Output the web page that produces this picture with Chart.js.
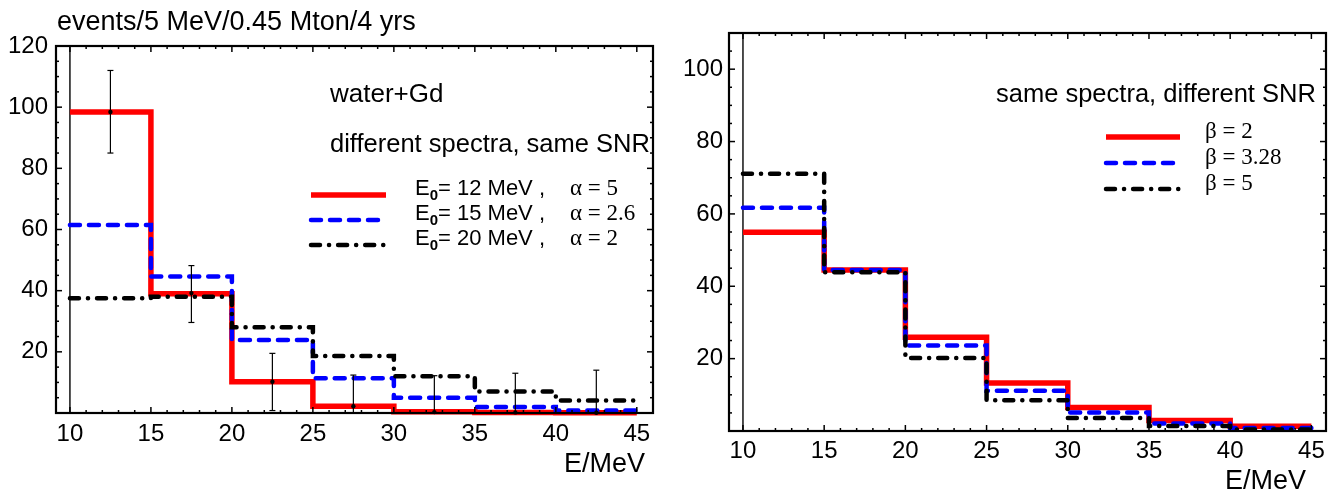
<!DOCTYPE html>
<html>
<head>
<meta charset="utf-8">
<script src="https://cdn.jsdelivr.net/npm/chart.js@4.4.0/dist/chart.umd.min.js"></script>
<style>
    html, body { margin: 0; padding: 0; background: #fff; }
    #wrap { position: relative; width: 1340px; height: 496px; }
    .panel { position: absolute; top: 0; width: 670px; height: 496px; }
    #left { left: 0; }
    #right { left: 670px; }
</style>
</head>
<body>
<div id="wrap">
    <div class="panel" id="left"><canvas id="c1" width="670" height="496"></canvas></div>
    <div class="panel" id="right"><canvas id="c2" width="670" height="496"></canvas></div>
</div>
<script>
(function() {
    'use strict';

    // bin edges (MeV), 5 MeV bins
    const binEdges = [10, 15, 20, 25, 30, 35, 40, 45];

    // left panel: water+Gd, different spectra, same SNR
    const leftRed   = [98.4, 39.0, 10.2, 2.2, 0.4, 0.2, 0.1];
    const leftBlue  = [61.5, 44.6, 23.9, 11.4, 5.0, 2.0, 0.8];
    const leftBlack = [37.5, 38.0, 28.0, 18.6, 12.0, 7.0, 4.1];

    // error bars on the left panel
    const errCenters = [12.5, 17.5, 22.5, 27.5, 32.5, 37.5, 42.5];
    const errMid  = [98.4, 39.2, 10.2, 2.2, 0.3, 0.2, 0.1];
    const errLow  = [85.0, 29.6, 0.8, 0, 0, 0, 0];
    const errHigh = [112.0, 48.2, 19.5, 12.4, 12.2, 13.0, 14.0];

    // right panel: same spectra, different SNR
    const rightRed   = [54.9, 44.5, 25.9, 13.3, 6.5, 2.9, 1.3];
    const rightBlue  = [61.7, 44.5, 23.6, 11.1, 5.1, 2.1, 0.8];
    const rightBlack = [71.1, 43.9, 20.2, 8.5, 3.6, 1.4, 0.4];

    // legend labels
    const leftE0 = ['12', '15', '20'];
    const leftAlpha = ['5', '2.6', '2'];
    const rightBeta = ['2', '3.28', '5'];

    const SANS = '"Liberation Sans", Arial, sans-serif';
    const SERIF = '"Liberation Serif", "Times New Roman", serif';

    const styles = [
        { borderColor: '#ff0000', borderWidth: 5.5, borderDash: [], borderCapStyle: 'butt', order: 3 },
        { borderColor: '#0000ff', borderWidth: 4.5, borderDash: [10, 9], borderCapStyle: 'round', order: 2 },
        { borderColor: '#000000', borderWidth: 4.5, borderDash: [9, 9, 0.1, 9], borderCapStyle: 'round', order: 1 }
    ];

    function steps(vals) {
        const pts = vals.map((v, i) => ({ x: binEdges[i], y: v }));
        pts.push({ x: binEdges[binEdges.length - 1], y: vals[vals.length - 1] });
        return pts;
    }

    function makeDatasets(series) {
        return series.map((vals, i) => Object.assign({
            data: steps(vals),
            stepped: 'before',
            pointRadius: 0,
            fill: false,
            clip: 8,
            borderJoinStyle: 'miter'
        }, styles[i]));
    }

    function strokeLine(ctx, x1, y1, x2, y2, w) {
        ctx.lineWidth = w;
        ctx.beginPath();
        ctx.moveTo(x1, y1);
        ctx.lineTo(x2, y2);
        ctx.stroke();
    }

    // frame with inward ticks on all four sides, plus the axis line at E = 10
    function framePlugin(yMinorStep, yMajorStep) {
        return {
            id: 'frame',
            beforeDatasetsDraw(chart) {
                const ctx = chart.ctx, a = chart.chartArea, xs = chart.scales.x;
                ctx.save();
                ctx.strokeStyle = '#000';
                const x10 = xs.getPixelForValue(10);
                strokeLine(ctx, x10, a.top, x10, a.bottom, 1.4);
                ctx.restore();
            },
            afterDatasetsDraw(chart) {
                const ctx = chart.ctx, a = chart.chartArea;
                const xs = chart.scales.x, ys = chart.scales.y;
                ctx.save();
                ctx.strokeStyle = '#000';
                for (let v = Math.ceil(xs.min); v <= xs.max; v++) {
                    const px = xs.getPixelForValue(v);
                    const len = v % 5 === 0 ? 6 : 3;
                    strokeLine(ctx, px, a.bottom, px, a.bottom - len, 1.5);
                    strokeLine(ctx, px, a.top, px, a.top + len, 1.5);
                }
                for (let v = 0; v <= ys.max; v += yMinorStep) {
                    const py = ys.getPixelForValue(v);
                    const len = v % yMajorStep === 0 ? 6 : 3;
                    strokeLine(ctx, a.left, py, a.left + len, py, 1.5);
                    strokeLine(ctx, a.right, py, a.right - len, py, 1.5);
                }
                ctx.lineWidth = 2.2;
                ctx.strokeRect(a.left, a.top, a.right - a.left, a.bottom - a.top);
                ctx.restore();
            }
        };
    }

    const errorBarPlugin = {
        id: 'errorBars',
        afterDatasetsDraw(chart) {
            const ctx = chart.ctx, xs = chart.scales.x, ys = chart.scales.y;
            ctx.save();
            ctx.strokeStyle = '#000';
            ctx.fillStyle = '#000';
            errCenters.forEach((c, i) => {
                const px = xs.getPixelForValue(c);
                const lo = ys.getPixelForValue(errLow[i]);
                const hi = ys.getPixelForValue(errHigh[i]);
                strokeLine(ctx, px, lo, px, hi, 1.2);
                strokeLine(ctx, px - 3, hi, px + 3, hi, 1.2);
                strokeLine(ctx, px - 3, lo, px + 3, lo, 1.2);
                ctx.beginPath();
                ctx.arc(px, ys.getPixelForValue(errMid[i]), 2.2, 0, Math.PI * 2);
                ctx.fill();
            });
            ctx.restore();
        }
    };

    function legendSample(ctx, ds, x1, x2, y) {
        ctx.save();
        ctx.strokeStyle = ds.borderColor;
        ctx.lineWidth = ds.borderWidth;
        ctx.setLineDash(ds.borderDash);
        ctx.lineCap = ds.borderCapStyle;
        ctx.beginPath();
        ctx.moveTo(x1, y);
        ctx.lineTo(x2, y);
        ctx.stroke();
        ctx.restore();
    }

    const leftTextPlugin = {
        id: 'leftText',
        afterDraw(chart) {
            const ctx = chart.ctx;
            ctx.save();
            ctx.fillStyle = '#000';
            ctx.textBaseline = 'middle';
            ctx.textAlign = 'left';
            ctx.font = '27px ' + SANS;
            ctx.fillText('events/5 MeV/0.45 Mton/4 yrs', 57, 23);
            ctx.font = '26px ' + SANS;
            ctx.fillText('water+Gd', 330, 95);
            ctx.font = '25.5px ' + SANS;
            ctx.fillText('different spectra, same SNR', 330, 145);
            ctx.textAlign = 'right';
            ctx.font = '27px ' + SANS;
            ctx.fillText('E/MeV', 645, 465);
            ctx.textAlign = 'left';

            const lineY = [195, 220, 245];
            chart.data.datasets.forEach((ds, i) => {
                legendSample(ctx, ds, 311, 386, lineY[i]);
                const ty = lineY[i] - 6;
                let x = 415;
                ctx.font = '22px ' + SANS;
                ctx.fillText('E', x, ty);
                x += ctx.measureText('E').width;
                ctx.font = 'bold 15px ' + SANS;
                ctx.fillText('0', x, ty + 7);
                x += ctx.measureText('0').width;
                ctx.font = '22px ' + SANS;
                ctx.fillText('= ' + leftE0[i] + ' MeV ,', x, ty);
                ctx.font = '23px ' + SERIF;
                ctx.fillText('\u03b1 = ' + leftAlpha[i], 570, ty);
            });
            ctx.restore();
        }
    };

    const rightTextPlugin = {
        id: 'rightText',
        afterDraw(chart) {
            const ctx = chart.ctx;
            ctx.save();
            ctx.fillStyle = '#000';
            ctx.textBaseline = 'middle';
            ctx.textAlign = 'left';
            ctx.font = '25.5px ' + SANS;
            ctx.fillText('same spectra, different SNR', 326, 95);
            ctx.textAlign = 'right';
            ctx.font = '27px ' + SANS;
            ctx.fillText('E/MeV', 636, 482);
            ctx.textAlign = 'left';

            const lineY = [137, 163, 189];
            chart.data.datasets.forEach((ds, i) => {
                legendSample(ctx, ds, 436, 510, lineY[i]);
                ctx.font = '23px ' + SERIF;
                ctx.fillText('\u03b2 = ' + rightBeta[i], 535, lineY[i] - 5);
            });
            ctx.restore();
        }
    };

    function axisOptions(o) {
        const tickFont = { family: SANS, size: 24 };
        return {
            x: {
                type: 'linear', min: o.xMin, max: o.xMax,
                grid: { display: false, drawTicks: false },
                border: { display: false },
                ticks: { stepSize: 5, includeBounds: false, padding: o.xPad, color: '#000', font: tickFont, maxRotation: 0, autoSkip: false },
                afterFit(s) { s.height = o.xHeight; }
            },
            y: {
                type: 'linear', min: 0, max: o.yMax,
                grid: { display: false, drawTicks: false },
                border: { display: false },
                ticks: {
                    stepSize: 20, includeBounds: false, padding: o.yPad, color: '#000', font: tickFont,
                    callback: v => (v === 0 ? '' : v)
                },
                afterFit(s) { s.width = o.yWidth; }
            }
        };
    }

    function buildChart(id, series, o, extraPlugins) {
        return new Chart(document.getElementById(id).getContext('2d'), {
            type: 'line',
            data: { datasets: makeDatasets(series) },
            options: {
                responsive: false,
                animation: false,
                events: [],
                layout: { padding: { left: 0, top: o.top, right: o.right, bottom: 0 } },
                plugins: { legend: { display: false }, tooltip: { enabled: false } },
                scales: axisOptions(o)
            },
            plugins: [framePlugin(5, 20)].concat(extraPlugins)
        });
    }

    buildChart('c1', [leftRed, leftBlue, leftBlack],
        { xMin: 9.14, xMax: 46.0, yMax: 120, top: 46, right: 17, xHeight: 83, yWidth: 56, xPad: 7, yPad: 8 },
        [errorBarPlugin, leftTextPlugin]);

    buildChart('c2', [rightRed, rightBlue, rightBlack],
        { xMin: 9.14, xMax: 45.9, yMax: 110, top: 33, right: 14, xHeight: 65, yWidth: 59, xPad: 6, yPad: 6 },
        [rightTextPlugin]);
})();
</script>
</body>
</html>
